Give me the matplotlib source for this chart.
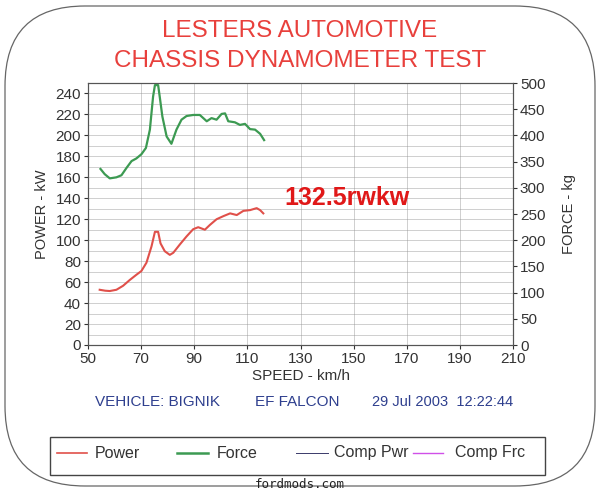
import matplotlib
matplotlib.use('Agg')
from matplotlib import pyplot as plt
from matplotlib.patches import FancyBboxPatch, Rectangle

# dyno run
speed_pwr = [54.4, 56.5, 58.2, 60.7, 63.2, 65.7, 68.2, 70.1, 72.0, 73.9, 75.2, 76.4,
             77.3, 78.9, 80.8, 82.1, 84.6, 87.1, 89.6, 91.5, 94.0, 95.9, 98.4, 101.0,
             103.5, 106.0, 108.5, 111.0, 113.5, 114.8, 116.0]
power_kw = [52.7, 51.8, 51.5, 52.7, 56.5, 62.0, 67.0, 70.6, 78.5, 94.0, 108.0, 108.0,
            97.0, 89.5, 86.0, 88.0, 96.0, 103.6, 110.5, 112.4, 110.0, 114.6, 120.0, 123.0,
            125.6, 124.0, 128.0, 128.7, 130.6, 128.7, 125.6]

speed_frc = [54.7, 56.3, 58.2, 60.7, 62.6, 64.5, 66.4, 68.2, 70.1, 71.8, 73.3, 74.5,
             75.2, 76.4, 77.0, 78.0, 79.6, 81.4, 83.3, 85.2, 87.1, 89.6, 92.1, 94.7,
             96.5, 98.4, 100.3, 101.6, 102.8, 105.3, 107.2, 109.1, 111.0, 112.9, 114.8, 116.3]
force_kg = [336, 326, 318, 320, 324, 338, 351, 356, 364, 376, 411, 474,
            496, 496, 474, 436, 398, 384, 411, 430, 437, 439, 439, 427,
            433, 430, 441, 442, 427, 425, 420, 422, 412, 411, 403, 391]

x_ticks = list(range(50, 211, 20))
pwr_ticks = list(range(0, 241, 20))
frc_ticks = list(range(0, 501, 50))

plt.rcParams['font.family'] = ['Liberation Sans', 'DejaVu Sans']

fig = plt.figure(figsize=(6.0, 4.91), dpi=100)
ax1 = fig.add_axes([88/600, 1-345/491, 425/600, 262/491])
ax2 = ax1.twinx()

tick_col = '#333333'
ax1.set_xlim(50, 210)
ax1.set_ylim(0, 250)
ax2.set_ylim(0, 500)
ax1.set_xticks(x_ticks)
ax1.set_yticks(pwr_ticks)
ax1.set_yticks(range(0, 251, 10), minor=True)
ax2.set_yticks(frc_ticks)
for ax in (ax1, ax2):
    ax.tick_params(labelsize=11, colors=tick_col, length=3, width=0.8, pad=2)
    ax.tick_params(which='minor', length=0)
    for sp in ax.spines.values():
        sp.set_color('#555555')
        sp.set_linewidth(0.8)

# dotted grid like the printer
ax1.grid(True, which='both', axis='y', linestyle=(0, (1.2, 1.2)), color='#909090', linewidth=0.6)
ax1.grid(True, which='major', axis='x', linestyle=(0, (1.2, 1.2)), color='#909090', linewidth=0.6)

ax1.plot(speed_pwr, power_kw, color='#e0504a', linewidth=1.5)
ax2.plot(speed_frc, force_kg, color='#3c9a52', linewidth=1.6)

ax1.set_xlabel('SPEED - km/h', fontsize=11, color=tick_col, labelpad=2)
ax1.set_ylabel('POWER - kW', fontsize=10.5, color=tick_col, labelpad=5)
ax2.set_ylabel('FORCE - kg', fontsize=10.5, color=tick_col, labelpad=12)

# overlay in pixel coordinates for the printout decorations
ov = fig.add_axes([0, 0, 1, 1], zorder=5)
ov.set_xlim(0, 600)
ov.set_ylim(491, 0)
ov.axis('off')
ov.patch.set_visible(False)

ov.add_patch(FancyBboxPatch((5, 6), 590, 480, boxstyle='round,pad=0,rounding_size=80',
                            fill=False, edgecolor='#666666', linewidth=0.9))

red = '#e8403c'
ov.text(300, 31, 'LESTERS AUTOMOTIVE', ha='center', va='center', fontsize=17.5, color=red)
ov.text(300, 61, 'CHASSIS DYNAMOMETER TEST', ha='center', va='center', fontsize=17.5, color=red)
ov.text(347, 198, '132.5rwkw', ha='center', va='center', fontsize=18, color='#e01818',
        fontweight='bold')

blue = '#2e3f8e'
ov.text(95, 402, 'VEHICLE: BIGNIK', ha='left', va='center', fontsize=11, color=blue)
ov.text(255, 402, 'EF FALCON', ha='left', va='center', fontsize=11, color=blue)
ov.text(372, 402, '29 Jul 2003  12:22:44', ha='left', va='center', fontsize=10.5, color=blue)

# legend box
ov.add_patch(Rectangle((50, 437), 495, 38, fill=False, edgecolor='#444444', linewidth=1.0))
ly = 453
ov.plot([57, 87], [ly, ly], color='#e0504a', linewidth=1.2)
ov.text(95, ly, 'Power', va='center', fontsize=11.5, color=tick_col)
ov.plot([177, 208], [ly, ly], color='#3c9a52', linewidth=1.8)
ov.text(217, ly, 'Force', va='center', fontsize=11.5, color=tick_col)
ov.plot([296, 328], [ly, ly], color='#3a3a6a', linewidth=0.7)
ov.text(334, ly, 'Comp Pwr', va='center', fontsize=11.5, color=tick_col)
ov.plot([413, 443], [ly, ly], color='#d050e8', linewidth=1.0)
ov.text(455, ly, 'Comp Frc', va='center', fontsize=11.5, color=tick_col)

ov.text(300, 484, 'fordmods.com', ha='center', va='center', fontsize=9, color='#222222',
        family='DejaVu Sans Mono')

fig.savefig('out.png', dpi=100, facecolor='white')
plt.close()
